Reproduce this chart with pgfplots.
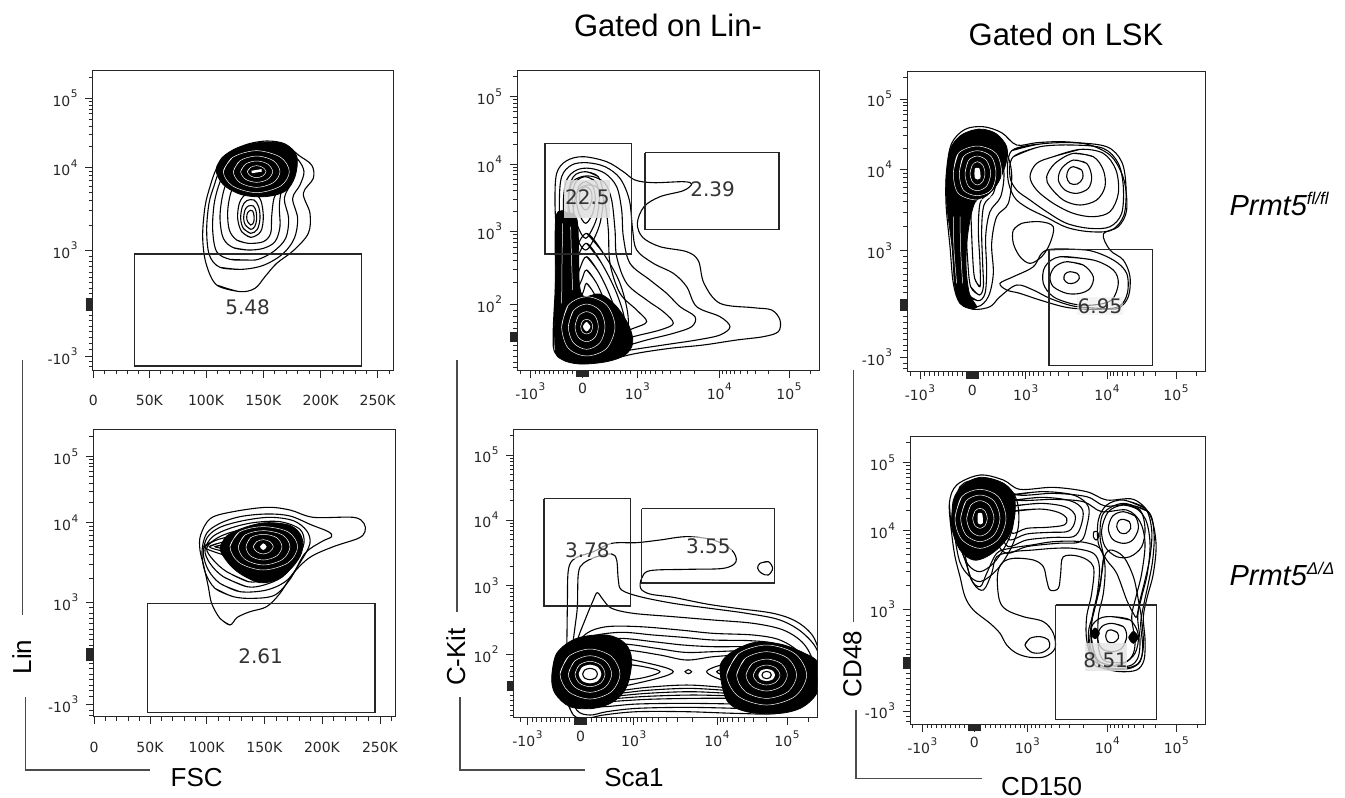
\documentclass[border=0pt]{standalone}
\usepackage{fontspec}
\setmainfont{Liberation Sans}
\newfontfamily\dvs{DejaVu Sans}
\usepackage{pgfplots}
\pgfplotsset{compat=1.18}

% decade label: 10 with a raised exponent
\newcommand\tl[1]{10\kern0.6pt\raisebox{0.6em}{\fontsize{10.5}{11}\selectfont#1}}

\pgfplotsset{
  flow/.style={
    scale only axis, clip=true,
    axis line style={black!85, line width=0.8pt},
    tick align=outside, xtick pos=left, ytick pos=left,
    major tick length=7.5pt, minor tick length=4pt,
    tick style={black!85, line width=0.8pt},
    ticklabel style={font=\dvs\fontsize{14}{15}\selectfont, text=black!85},
    yticklabel style={xshift=-4pt},
    extra y tick labels={}, extra x tick labels={},
    extra y tick style={major tick length=7pt},
    extra x tick style={major tick length=7pt},
  },
  ct/.style={smooth, tension=0.55, line width=1.1pt, black, no markers},
  blk/.style={smooth, tension=0.55, fill=black, draw=black, line width=0.8pt, no markers},
  wtx/.style={smooth, tension=0.55, white, line width=0.5pt, no markers},
  wfill/.style={smooth, tension=0.55, fill=white, draw=none, no markers},
  gate/.style={sharp plot, black!85, line width=1.1pt, no markers},
}
\tikzset{glab/.style={font=\dvs\fontsize{20}{20}\selectfont, text=black!80, inner sep=1pt}}
\newcommand\ct[1]{\addplot[ct] coordinates {#1};}
\newcommand\bk[1]{\addplot[blk] coordinates {#1};}
\newcommand\wt[1]{\addplot[wtx] coordinates {#1};}
\newcommand\wf[1]{\addplot[wfill] coordinates {#1};}

\begin{document}
\begin{tikzpicture}
\useasboundingbox (0pt,0pt) rectangle (1345pt,-798pt);

% ---------- titles and labels ----------
\node[anchor=base, font=\fontsize{31}{31}\selectfont] at (668pt,-36pt) {Gated on Lin-};
\node[anchor=base, font=\fontsize{31}{31}\selectfont] at (1066pt,-45pt) {Gated on LSK};
\node[anchor=base west, font=\fontsize{29}{29}\selectfont\itshape] at (1226pt,-215pt)
  {Prmt5\raisebox{11pt}{\fontsize{17}{17}\selectfont fl/fl}};
\node[anchor=base west, font=\fontsize{29}{29}\selectfont\itshape] at (1226pt,-585pt)
  {Prmt5\raisebox{11pt}{\fontsize{17}{17}\selectfont Δ/Δ}};

\node[anchor=base, font=\fontsize{26}{26}\selectfont] at (196.7pt,-786pt) {FSC};
\node[anchor=base, font=\fontsize{26}{26}\selectfont] at (634pt,-786pt) {Sca1};
\node[anchor=base, font=\fontsize{26}{26}\selectfont] at (1041.7pt,-795pt) {CD150};
\node[rotate=90, font=\fontsize{26}{26}\selectfont] at (21.7pt,-657pt) {Lin};
\node[rotate=90, font=\fontsize{26}{26}\selectfont] at (455.8pt,-657pt) {C-Kit};
\node[rotate=90, font=\fontsize{26}{26}\selectfont] at (852.5pt,-664pt) {CD48};

\draw[black!70, line width=1.2pt] (22.7pt,-360pt) -- (22.7pt,-615pt);
\draw[black!70, line width=1.2pt] (25.7pt,-697pt) -- (25.7pt,-770pt) -- (150pt,-770pt);
\draw[black!70, line width=1.2pt] (457pt,-360pt) -- (457pt,-612pt);
\draw[black!70, line width=1.2pt] (460pt,-697pt) -- (460pt,-770pt) -- (585pt,-770pt);
\draw[black!70, line width=1.2pt] (853.3pt,-370pt) -- (853.3pt,-622pt);
\draw[black!70, line width=1.2pt] (856pt,-710pt) -- (856pt,-778.3pt) -- (981.7pt,-778.3pt);

% ================= FSC / Lin, fl/fl =================
\begin{axis}[flow, at={(92.7pt,-370pt)}, anchor=south west, width=300.6pt, height=300pt,
  xmin=278, xmax=1180, ymin=-1020, ymax=-120,
  xtick={280,448,618,790,962,1133}, xticklabels={0,50K,100K,150K,200K,250K},
  minor xtick={314,348,382,416,482,516,550,584,652,687,721,756,824,859,893,928,996,1030,1065,1099,1167},
  ytick={-205,-413,-660,-978}, yticklabels={\tl{5},\tl{4},\tl{3},-\tl{3}},
  minor ytick={-142,-214.6,-225.2,-237.2,-251.2,-267.6,-287.8,-313.8,-350.4,-424.4,-437,-451.3,-467.8,-487.3,-511.3,-542.2,-585.7,-678,-694,-710,-726,-742,-758,-774,-790,-856,-872,-888,-905,-922,-940,-958,-995,-1010},
  extra y ticks={-842,-840,...,-804},
  xticklabel style={yshift=-14pt}]
\ct{(720,-785) (650,-765) (618,-700) (608,-620) (615,-530) (630,-470) (650,-415) (685,-375) (735,-345) (800,-333) (855,-342) (895,-375) (935,-405) (940,-445) (910,-490) (930,-550) (925,-610) (880,-662) (830,-700) (795,-740) (765,-775) (720,-785) (650,-765)}
\ct{(725,-718) (660,-712) (628,-675) (620,-600) (627,-520) (642,-468) (660,-420) (695,-385) (745,-356) (800,-348) (855,-358) (895,-390) (912,-425) (900,-465) (878,-505) (893,-565) (883,-625) (848,-672) (790,-706) (725,-718) (660,-712)}
\ct{(740,-690) (690,-688) (650,-665) (638,-600) (642,-525) (655,-470) (675,-425) (705,-392) (755,-365) (805,-358) (857,-372) (882,-405) (875,-455) (853,-505) (866,-565) (857,-625) (820,-665) (775,-688) (740,-690) (690,-688)}
\ct{(745,-660) (700,-653) (670,-625) (660,-565) (667,-500) (683,-450) (715,-405) (760,-378) (810,-372) (855,-390) (866,-430) (845,-480) (838,-530) (840,-590) (825,-635) (790,-655) (745,-660) (700,-653)}
\ct{(745,-640) (710,-630) (688,-600) (683,-545) (692,-490) (712,-450) (750,-420) (800,-410) (840,-425) (842,-465) (822,-505) (815,-560) (812,-610) (790,-635) (745,-640) (710,-630)}
\ct{(752,-622) (725,-605) (713,-565) (718,-520) (735,-495) (760,-490) (782,-510) (790,-560) (782,-605) (752,-622) (725,-605)}
\ct{(752,-610) (730,-595) (722,-565) (727,-530) (740,-512) (762,-510) (776,-530) (780,-565) (772,-598) (752,-610) (730,-595)}
\ct{(752,-598) (736,-585) (731,-565) (735,-540) (745,-528) (760,-528) (768,-543) (770,-568) (764,-590) (752,-598) (736,-585)}
\ct{(752,-585) (743,-575) (740,-562) (743,-548) (751,-541) (758,-543) (762,-556) (762,-572) (758,-582) (752,-585) (743,-575)}
\bk{(648,-420) (666,-383) (715,-352) (785,-337) (852,-342) (890,-378) (885,-440) (855,-484) (795,-500) (725,-494) (670,-464) (648,-420) (666,-383)}
\wt{(670,-425) (698,-382) (770,-362) (842,-382) (868,-425) (842,-468) (770,-488) (698,-468) (670,-425) (698,-382)}
\wt{(700,-425) (720,-392) (770,-378) (820,-392) (840,-425) (820,-458) (770,-472) (720,-458) (700,-425) (720,-392)}
\wt{(722,-425) (737,-402) (770,-393) (803,-402) (818,-425) (803,-448) (770,-457) (737,-448) (722,-425) (737,-402)}
\wt{(742,-425) (752,-412) (770,-407) (788,-412) (798,-425) (788,-438) (770,-443) (752,-438) (742,-425) (752,-412)}
\addplot[white, line width=2.5pt, no markers] coordinates {(755,-426) (785,-421)};
\addplot[gate] coordinates {(403,-672) (1085,-672) (1085,-1008) (403,-1008) (403,-672)};
\node[glab] at (axis cs:743,-832) {5.48};
\end{axis}

% ================= Sca1 / C-Kit, fl/fl =================
\begin{axis}[flow, at={(517pt,-370pt)}, anchor=south west, width=302pt, height=299.3pt,
  xmin=291, xmax=1197, ymin=-1020, ymax=-122,
  xtick={331,488,652,898,1107}, xticklabels={-\tl{3},0,\tl{3},\tl{4},\tl{5}},
  minor xtick={300,345,359,373,387,401,415,429,443,457,520,536,552,568,584,600,616,632,663.3,675.9,690.1,706.6,726,749.9,780.7,824,907.6,918.3,930.4,944.4,961,981.2,1007.3,1044.1,1170},
  extra x ticks={470,472,...,506},
  ytick={-200,-403,-603,-822}, yticklabels={\tl{5},\tl{4},\tl{3},\tl{2}},
  minor ytick={-138.9,-209.3,-219.7,-231.5,-245.1,-261.1,-280.8,-306.2,-341.9,-412.2,-422.4,-434,-447.4,-463.2,-482.6,-507.6,-542.8,-613.1,-624.2,-637,-651.6,-668.9,-690.2,-717.5,-756.1,-842,-860,-878,-895,-945,-962,-980,-998,-1012},
  extra y ticks={-934,-932,...,-906},
  xticklabel style={yshift=-2pt}]
\ct{(400,-950) (405,-800) (410,-650) (405,-520) (410,-430) (440,-392) (490,-380) (560,-395) (610,-425) (645,-450) (700,-458) (790,-455) (815,-462) (790,-482) (720,-500) (672,-530) (652,-580) (668,-622) (720,-650) (800,-665) (835,-692) (852,-760) (900,-820) (1000,-833) (1055,-840) (1080,-870) (1075,-905) (1030,-920) (950,-930) (850,-945) (750,-955) (650,-970) (560,-990) (480,-1000) (428,-985) (400,-950) (405,-800)}
\ct{(415,-940) (420,-800) (422,-650) (418,-520) (425,-440) (455,-405) (500,-398) (555,-410) (600,-445) (628,-510) (638,-600) (650,-660) (700,-700) (760,-730) (800,-770) (830,-830) (900,-860) (930,-890) (900,-915) (830,-930) (730,-945) (620,-962) (520,-982) (460,-975) (415,-940) (420,-800)}
\ct{(425,-930) (432,-800) (435,-650) (430,-520) (440,-450) (470,-420) (510,-415) (555,-430) (590,-470) (605,-540) (610,-620) (630,-700) (690,-750) (740,-790) (780,-830) (825,-860) (815,-890) (760,-910) (680,-930) (590,-955) (510,-968) (425,-930) (432,-800)}
\ct{(435,-920) (442,-780) (445,-640) (445,-520) (455,-460) (485,-440) (520,-440) (555,-460) (575,-510) (585,-600) (590,-680) (620,-760) (680,-810) (730,-845) (760,-880) (720,-900) (640,-920) (560,-945) (500,-955) (435,-920) (442,-780)}
\ct{(450,-910) (455,-780) (458,-650) (460,-540) (475,-480) (505,-465) (535,-475) (555,-520) (565,-600) (570,-700) (600,-790) (650,-840) (680,-875) (640,-895) (570,-920) (510,-935) (450,-910) (455,-780)}
\ct{(500,-610) (550,-670) (600,-760) (625,-870) (605,-955) (500,-990) (432,-962) (422,-870) (440,-750) (462,-670) (500,-610) (550,-670)}
\ct{(500,-640) (545,-700) (590,-790) (615,-880) (595,-950) (500,-980) (440,-955) (430,-870) (450,-760) (470,-690) (500,-640) (545,-700)}
\ct{(500,-680) (538,-730) (575,-810) (595,-885) (578,-940) (500,-965) (448,-945) (442,-870) (458,-780) (478,-720) (500,-680) (538,-730)}
\ct{(500,-720) (530,-760) (560,-830) (575,-890) (560,-930) (500,-950) (455,-932) (452,-870) (465,-800) (485,-750) (500,-720) (530,-760)}
\ct{(500,-760) (522,-790) (545,-850) (555,-895) (540,-925) (500,-937) (465,-920) (462,-870) (475,-820) (490,-785) (500,-760) (522,-790)}
\ct{(497,-425) (535,-440) (550,-500) (540,-580) (515,-640) (497,-660) (478,-640) (455,-580) (445,-500) (460,-440) (497,-425) (535,-440)}
\ct{(497,-440) (527,-455) (538,-500) (530,-565) (510,-610) (497,-625) (483,-610) (465,-565) (457,-500) (468,-455) (497,-440) (527,-455)}
\ct{(497,-455) (518,-468) (526,-505) (518,-550) (497,-580) (477,-550) (469,-505) (477,-468) (497,-455) (518,-468)}
\ct{(497,-470) (512,-480) (516,-505) (508,-530) (497,-540) (486,-530) (478,-505) (483,-480) (497,-470) (512,-480)}
\bk{(408,-560) (440,-548) (470,-565) (476,-660) (478,-760) (492,-800) (540,-792) (590,-830) (628,-890) (638,-940) (615,-975) (560,-995) (480,-1002) (425,-988) (405,-950) (406,-760) (408,-560) (440,-548)}
\wt{(482,-890) (487,-874) (500,-868) (513,-874) (518,-890) (513,-906) (500,-912) (487,-906) (482,-890) (487,-874)}
\wt{(465,-890) (475,-858) (500,-845) (525,-858) (535,-890) (525,-922) (500,-935) (475,-922) (465,-890) (475,-858)}
\wt{(445,-890) (460,-842) (500,-822) (540,-842) (555,-890) (540,-938) (500,-958) (460,-938) (445,-890) (460,-842)}
\wt{(425,-890) (445,-825) (500,-800) (560,-825) (585,-890) (560,-955) (500,-978) (445,-955) (425,-890) (445,-825)}
\wt{(428,-580) (426,-700) (425,-820)}
\wt{(452,-590) (455,-700) (458,-780)}
\wf{(500,-876) (511,-890) (500,-904) (489,-890) (500,-876) (511,-890)}
\addplot[fill=gray!25, draw=none, fill opacity=0.85] coordinates {(432,-450) (570,-450) (570,-565) (432,-565)};
\addplot[gate] coordinates {(375,-340) (635,-340) (635,-672) (375,-672) (375,-340)};
\addplot[gate] coordinates {(675,-368) (1077,-368) (1077,-598) (675,-598) (675,-368)};
\node[glab] at (axis cs:502,-503) {22.5};
\node[glab] at (axis cs:878,-478) {2.39};
\end{axis}

% ================= CD150 / CD48, fl/fl =================
\begin{axis}[flow, at={(907pt,-371.7pt)}, anchor=south west, width=298.3pt, height=300pt,
  xmin=201, xmax=1096, ymin=-1025, ymax=-125,
  xtick={240,397,557,801,1008}, xticklabels={-\tl{3},0,\tl{3},\tl{4},\tl{5}},
  minor xtick={210,254,268,282,296,310,324,338,352,366,430,445,460,475,490,505,520,535,548,568.2,580.7,594.8,611.2,630.4,654.1,684.6,727.6,810.5,821.1,833.1,846.9,863.3,883.4,909.3,945.7,1070},
  extra x ticks={380,382,...,414},
  ytick={-207,-418,-662,-982}, yticklabels={\tl{5},\tl{4},\tl{3},-\tl{3}},
  minor ytick={-143.5,-216.7,-227.5,-239.7,-253.8,-270.5,-291,-317.4,-354.5,-429.2,-441.7,-455.8,-472.2,-491.4,-515.1,-545.6,-588.6,-680,-698,-716,-734,-752,-770,-788,-860,-877,-894,-911,-928,-945,-962,-1000,-1015},
  extra y ticks={-842,-840,...,-808},
  xticklabel style={yshift=-2pt}]
\ct{(400,-838) (360,-820) (340,-760) (330,-650) (318,-520) (320,-420) (335,-340) (375,-298) (430,-290) (485,-308) (530,-345) (590,-338) (670,-335) (750,-345) (815,-380) (852,-450) (860,-540) (835,-590) (790,-612) (810,-660) (850,-690) (870,-740) (865,-800) (835,-835) (780,-835) (700,-828) (630,-805) (580,-780) (530,-765) (480,-800) (450,-830) (400,-838) (360,-820)}
\ct{(520,-600) (545,-580) (600,-575) (640,-590) (630,-640) (605,-680) (570,-700) (540,-680) (520,-640) (520,-600) (545,-580)}
\ct{(412,-830) (365,-810) (350,-700) (340,-560) (338,-430) (355,-350) (400,-320) (450,-325) (495,-360) (515,-430) (505,-520) (470,-560) (455,-640) (460,-730) (445,-800) (412,-830) (365,-810)}
\ct{(415,-812) (378,-790) (368,-700) (360,-560) (355,-440) (370,-365) (405,-340) (445,-345) (478,-375) (492,-430) (482,-500) (450,-545) (437,-620) (440,-720) (435,-790) (415,-812) (378,-790)}
\ct{(418,-795) (392,-770) (383,-690) (376,-560) (372,-450) (385,-380) (410,-362) (440,-368) (462,-395) (470,-440) (460,-490) (432,-525) (425,-600) (428,-700) (430,-770) (418,-795) (392,-770)}
\ct{(420,-770) (404,-745) (398,-680) (393,-560) (390,-460) (398,-400) (415,-385) (435,-392) (448,-420) (450,-460) (438,-495) (420,-520) (415,-600) (420,-700) (420,-770) (404,-745)}
\ct{(700,-410) (725,-420) (728,-445) (712,-462) (690,-460) (680,-440) (686,-418) (700,-410) (725,-420)}
\ct{(700,-390) (740,-400) (755,-440) (745,-475) (710,-490) (675,-480) (655,-450) (665,-415) (700,-390) (740,-400)}
\ct{(700,-370) (760,-380) (790,-420) (795,-470) (770,-510) (720,-525) (670,-510) (630,-470) (620,-440) (645,-400) (700,-370) (760,-380)}
\ct{(640,-380) (720,-358) (790,-370) (828,-420) (835,-490) (810,-545) (760,-560) (700,-550) (640,-520) (590,-480) (570,-440) (590,-400) (640,-380) (720,-358)}
\ct{(520,-380) (600,-350) (700,-345) (790,-355) (835,-400) (850,-470) (845,-550) (810,-590) (750,-595) (680,-580) (620,-545) (570,-510) (530,-480) (510,-440) (520,-380) (600,-350)}
\ct{(515,-362) (600,-342) (700,-338) (800,-350) (845,-395) (858,-470) (852,-555) (815,-600) (750,-605) (680,-592) (620,-562) (560,-532) (522,-500) (503,-440) (515,-362) (600,-342)}
\ct{(690,-725) (712,-730) (718,-745) (705,-758) (685,-760) (672,-748) (675,-732) (690,-725) (712,-730)}
\ct{(680,-695) (730,-705) (760,-740) (750,-775) (720,-790) (680,-790) (640,-770) (630,-740) (645,-710) (680,-695) (730,-705)}
\ct{(660,-680) (760,-690) (820,-720) (835,-760) (815,-810) (760,-825) (700,-822) (640,-800) (610,-760) (615,-710) (660,-680) (760,-690)}
\ct{(620,-660) (740,-660) (820,-690) (860,-730) (862,-790) (835,-830) (760,-838) (680,-832) (600,-810) (540,-790) (500,-780) (480,-760) (520,-740) (580,-710) (620,-660) (740,-660)}
\bk{(318,-450) (330,-360) (360,-318) (400,-300) (432,-298) (470,-312) (500,-350) (498,-400) (472,-462) (440,-497) (405,-517) (385,-600) (378,-700) (388,-790) (410,-832) (370,-828) (346,-780) (336,-650) (322,-540) (318,-450) (330,-360)}
\wt{(340,-430) (355,-370) (412,-348) (468,-370) (485,-430) (468,-490) (412,-510) (355,-490) (340,-430) (355,-370)}
\wt{(358,-430) (370,-380) (412,-362) (454,-380) (468,-430) (454,-480) (412,-497) (370,-480) (358,-430) (370,-380)}
\wt{(375,-430) (385,-392) (412,-378) (440,-392) (452,-430) (440,-468) (412,-482) (385,-468) (375,-430) (385,-392)}
\wt{(390,-430) (397,-405) (412,-395) (428,-405) (435,-430) (428,-455) (412,-465) (397,-455) (390,-430) (397,-405)}
\wt{(340,-560) (342,-660) (350,-760)}
\wt{(360,-560) (362,-660) (368,-760)}
\wf{(405,-415) (418,-415) (421,-445) (405,-445) (405,-415) (418,-415)}
\addplot[gate] coordinates {(627,-658) (937,-658) (937,-1007) (627,-1007) (627,-658)};
\node[glab, fill=gray!15, fill opacity=0.6, text opacity=1] at (axis cs:780,-828) {6.95};
\end{axis}

% ================= FSC / Lin, Delta =================
\begin{axis}[flow, at={(93.3pt,-716.7pt)}, anchor=south west, width=302pt, height=287.4pt,
  xmin=280, xmax=1186, ymin=-950, ymax=-88,
  xtick={282,450,620,793,966,1140}, xticklabels={0,50K,100K,150K,200K,250K},
  minor xtick={316,350,384,418,484,518,552,586,655,689,724,758,828,862,897,931,1001,1035,1070,1105,1174},
  ytick={-170,-368,-607,-912}, yticklabels={\tl{5},\tl{4},\tl{3},-\tl{3}},
  minor ytick={-110.4,-179.1,-189.2,-200.7,-213.9,-229.6,-248.8,-273.6,-308.4,-379,-391.2,-405,-421.1,-439.9,-463.1,-493,-535.1,-623,-639,-655,-671,-687,-703,-719,-735,-790,-806,-822,-838,-855,-872,-890,-930,-945},
  extra y ticks={-782,-780,...,-744},
  xticklabel style={yshift=-14pt}]
\ct{(690,-675) (660,-655) (635,-610) (625,-560) (612,-500) (600,-450) (602,-405) (632,-355) (700,-335) (800,-322) (870,-330) (940,-352) (1060,-352) (1092,-370) (1095,-395) (1075,-415) (1000,-440) (930,-472) (880,-520) (840,-580) (800,-620) (750,-635) (712,-652) (690,-675) (660,-655)}
\ct{(700,-590) (645,-565) (615,-515) (606,-455) (620,-400) (660,-370) (720,-350) (800,-342) (870,-348) (935,-375) (985,-395) (995,-410) (965,-425) (915,-460) (872,-535) (825,-585) (760,-595) (700,-590) (645,-565)}
\ct{(720,-575) (660,-550) (625,-510) (610,-460) (622,-412) (660,-382) (730,-362) (810,-352) (880,-362) (920,-392) (930,-430) (905,-480) (862,-540) (800,-570) (720,-575) (660,-550)}
\ct{(740,-560) (670,-530) (630,-490) (615,-450) (638,-410) (690,-385) (760,-368) (840,-365) (900,-388) (912,-430) (888,-482) (848,-530) (792,-555) (740,-560) (670,-530)}
\ct{(745,-545) (680,-515) (640,-480) (620,-445) (650,-415) (700,-395) (770,-382) (840,-380) (890,-400) (898,-435) (875,-478) (838,-520) (792,-540) (745,-545) (680,-515)}
\ct{(612,-440) (650,-420) (700,-408) (750,-405) (760,-440) (750,-478) (700,-472) (650,-458) (612,-440) (650,-420)}
\ct{(628,-440) (662,-428) (705,-420) (750,-418) (755,-440) (750,-465) (705,-460) (662,-452) (628,-440) (662,-428)}
\ct{(645,-440) (680,-433) (720,-430) (750,-432) (750,-450) (720,-450) (680,-447) (645,-440) (680,-433)}
\bk{(660,-445) (680,-408) (735,-382) (800,-368) (872,-377) (905,-410) (905,-458) (876,-503) (832,-538) (780,-548) (722,-522) (684,-488) (660,-445) (680,-408)}
\wt{(690,-440) (718,-396) (790,-380) (865,-396) (893,-440) (865,-488) (790,-510) (718,-488) (690,-440) (718,-396)}
\wt{(715,-440) (735,-405) (790,-392) (848,-405) (870,-440) (848,-478) (790,-495) (735,-478) (715,-440) (735,-405)}
\wt{(738,-440) (752,-413) (790,-403) (830,-413) (846,-440) (830,-468) (790,-480) (752,-468) (738,-440) (752,-413)}
\wt{(760,-440) (770,-425) (790,-419) (810,-425) (820,-440) (810,-455) (790,-462) (770,-455) (760,-440) (770,-425)}
\wf{(780,-440) (790,-430) (800,-440) (790,-450) (780,-440) (790,-430)}
\addplot[gate] coordinates {(442,-610) (1125,-610) (1125,-937) (442,-937) (442,-610)};
\node[glab] at (axis cs:782,-770) {2.61};
\end{axis}

% ================= Sca1 / C-Kit, Delta =================
\begin{axis}[flow, at={(513.7pt,-717.7pt)}, anchor=south west, width=303.6pt, height=288.4pt,
  xmin=281, xmax=1192, ymin=-953, ymax=-88,
  xtick={322,482,641,891,1101}, xticklabels={-\tl{3},0,\tl{3},\tl{4},\tl{5}},
  minor xtick={300,336,350,364,378,392,406,420,434,448,515,530,545,560,575,590,605,620,632,652.5,665.3,679.8,696.5,716.3,740.5,771.8,815.8,900.7,911.4,923.6,937.6,954.2,974.6,1000.8,1037.8,1164},
  extra x ticks={464,466,...,500},
  ytick={-165,-360,-557,-762}, yticklabels={\tl{5},\tl{4},\tl{3},\tl{2}},
  minor ytick={-106.3,-174,-183.9,-195.2,-208.3,-223.7,-242.6,-267,-301.3,-369.1,-379.1,-390.5,-403.7,-419.3,-438.4,-463,-497.7,-566.4,-576.9,-588.8,-602.5,-618.7,-638.6,-664.2,-700.3,-780,-798,-815,-830,-885,-900,-915,-930,-945},
  extra y ticks={-871,-869,...,-843},
  xticklabel style={yshift=-2pt}]
\ct{(460,-945) (435,-880) (440,-750) (442,-620) (445,-510) (465,-475) (520,-455) (575,-430) (650,-428) (720,-420) (800,-410) (880,-420) (935,-450) (948,-485) (910,-505) (800,-508) (690,-512) (665,-535) (662,-565) (690,-582) (760,-592) (860,-612) (950,-625) (1060,-640) (1130,-665) (1180,-710) (1200,-780) (1185,-860) (1140,-910) (1070,-940) (950,-940) (800,-935) (650,-935) (550,-945) (500,-955) (460,-945) (435,-880)}
\ct{(470,-930) (447,-860) (455,-760) (465,-680) (472,-620) (475,-520) (490,-490) (530,-470) (575,-462) (590,-480) (595,-540) (605,-570) (660,-590) (760,-610) (870,-625) (980,-640) (1080,-660) (1150,-700) (1195,-760) (1190,-850) (1150,-900) (1070,-930) (950,-925) (800,-922) (650,-925) (560,-935) (510,-945) (470,-930) (447,-860)}
\ct{(480,-915) (455,-840) (470,-730) (495,-660) (520,-600) (532,-578) (550,-600) (575,-625) (640,-640) (760,-650) (880,-660) (1000,-670) (1090,-690) (1150,-730) (1180,-790) (1170,-860) (1130,-895) (1060,-915) (950,-912) (800,-910) (650,-912) (550,-920) (480,-915) (455,-840)}
\ct{(490,-905) (440,-830) (460,-750) (500,-700) (560,-680) (660,-680) (780,-690) (880,-700) (1000,-705) (1080,-720) (1140,-760) (1160,-820) (1140,-870) (1080,-900) (960,-895) (820,-895) (680,-898) (560,-905) (490,-905) (440,-830)}
\ct{(495,-900) (430,-830) (455,-755) (505,-712) (600,-697) (700,-705) (790,-712) (880,-720) (990,-722) (1070,-732) (1130,-770) (1150,-825) (1125,-870) (1060,-893) (945,-888) (815,-885) (680,-889) (565,-897) (495,-900) (430,-830)}
\ct{(500,-895) (420,-830) (450,-760) (510,-725) (600,-715) (700,-725) (790,-735) (880,-740) (980,-740) (1060,-745) (1120,-780) (1140,-830) (1110,-870) (1040,-885) (930,-880) (810,-875) (680,-880) (570,-890) (500,-895) (420,-830)}
\ct{(505,-880) (412,-830) (445,-770) (515,-738) (610,-732) (710,-745) (795,-757) (880,-755) (975,-752) (1055,-757) (1110,-790) (1130,-832) (1100,-868) (1030,-878) (920,-871) (805,-865) (680,-871) (575,-882) (505,-880) (412,-830)}
\ct{(505,-885) (405,-830) (440,-780) (520,-750) (620,-750) (720,-765) (800,-780) (880,-770) (970,-765) (1050,-770) (1100,-800) (1120,-835) (1090,-865) (1020,-872) (910,-862) (800,-855) (680,-862) (580,-875) (505,-885) (405,-830)}
\ct{(560,-770) (650,-782) (760,-815) (650,-850) (560,-860) (530,-815) (560,-770) (650,-782)}
\ct{(580,-790) (660,-798) (720,-815) (660,-835) (580,-840) (560,-815) (580,-790) (660,-798)}
\ct{(1000,-775) (920,-790) (860,-815) (920,-845) (1000,-860) (1030,-815) (1000,-775) (920,-790)}
\ct{(990,-792) (930,-802) (890,-815) (930,-832) (990,-840) (1005,-815) (990,-792) (930,-802)}
\ct{(795,-815) (805,-809) (815,-815) (805,-821) (795,-815) (805,-809)}
\ct{(1020,-490) (1045,-485) (1058,-505) (1045,-525) (1025,-520) (1013,-505) (1020,-490) (1045,-485)}
\bk{(395,-830) (410,-760) (470,-715) (560,-705) (615,-730) (635,-780) (620,-860) (580,-905) (520,-925) (450,-920) (405,-880) (395,-830) (410,-760)}
\bk{(900,-800) (930,-760) (1000,-728) (1080,-732) (1150,-758) (1195,-790) (1195,-870) (1150,-920) (1080,-940) (980,-935) (920,-900) (900,-800) (930,-760)}
\wt{(465,-822) (478,-795) (510,-784) (542,-795) (555,-822) (542,-849) (510,-860) (478,-849) (465,-822) (478,-795)}
\wt{(445,-822) (464,-783) (510,-767) (556,-783) (575,-822) (556,-861) (510,-877) (464,-861) (445,-822) (464,-783)}
\wt{(420,-822) (446,-769) (510,-747) (574,-769) (600,-822) (574,-875) (510,-897) (446,-875) (420,-822) (446,-769)}
\wt{(1000,-825) (1012,-804) (1040,-795) (1068,-804) (1080,-825) (1068,-846) (1040,-855) (1012,-846) (1000,-825) (1012,-804)}
\wt{(978,-825) (996,-791) (1040,-777) (1084,-791) (1102,-825) (1084,-859) (1040,-873) (996,-859) (978,-825) (996,-791)}
\wt{(950,-825) (976,-775) (1040,-755) (1104,-775) (1130,-825) (1104,-875) (1040,-895) (976,-875) (950,-825) (976,-775)}
\wt{(920,-825) (955,-761) (1040,-735) (1125,-761) (1160,-825) (1125,-889) (1040,-915) (955,-889) (920,-825) (955,-761)}
\wf{(476,-822) (486,-802) (510,-794) (534,-802) (544,-822) (534,-842) (510,-850) (486,-842) (476,-822) (486,-802)}
\ct{(488,-822) (494,-810) (510,-805) (526,-810) (532,-822) (526,-834) (510,-839) (494,-834) (488,-822) (494,-810)}
\wf{(1015,-825) (1022,-812) (1040,-807) (1058,-812) (1065,-825) (1058,-838) (1040,-843) (1022,-838) (1015,-825) (1022,-812)}
\ct{(1026,-825) (1030,-817) (1040,-814) (1050,-817) (1054,-825) (1050,-833) (1040,-836) (1030,-833) (1026,-825) (1030,-817)}
\addplot[gate] coordinates {(372,-296) (631,-296) (631,-618) (372,-618) (372,-296)};
\addplot[gate] coordinates {(665,-326) (1063,-326) (1063,-549) (665,-549) (665,-326)};
\node[glab, fill=white, fill opacity=0.6, text opacity=1] at (axis cs:502,-452) {3.78};
\node[glab, fill=white, fill opacity=0.6, text opacity=1] at (axis cs:865,-438) {3.55};
\end{axis}

% ================= CD150 / CD48, Delta =================
\begin{axis}[flow, at={(910pt,-724.3pt)}, anchor=south west, width=295.7pt, height=287.6pt,
  xmin=210, xmax=1097, ymin=-973, ymax=-110,
  xtick={247,403,562,802,1009}, xticklabels={-\tl{3},0,\tl{3},\tl{4},\tl{5}},
  minor xtick={217,261,275,289,303,317,331,345,359,373,435,450,465,480,495,510,525,540,552,573,585.3,599.2,615.3,634.2,657.5,687.5,729.8,811.5,822.1,834.1,847.9,864.3,884.4,910.3,946.7,1071},
  extra x ticks={385,387,...,421},
  ytick={-188,-392,-628,-933}, yticklabels={\tl{5},\tl{4},\tl{3},-\tl{3}},
  minor ytick={-126.6,-197.4,-207.8,-219.6,-233.3,-249.4,-269.2,-294.7,-330.6,-402.9,-414.9,-428.6,-444.4,-463,-485.9,-515.4,-557,-645,-662,-679,-696,-713,-730,-747,-762,-820,-836,-852,-868,-884,-900,-916,-950,-965},
  extra y ticks={-805,-803,...,-771},
  xticklabel style={yshift=-2pt}]
\ct{(335,-400) (328,-310) (350,-255) (420,-225) (490,-240) (540,-268) (640,-262) (740,-275) (800,-300) (880,-298) (930,-345) (948,-430) (940,-520) (922,-590) (910,-650) (915,-720) (912,-780) (890,-810) (840,-815) (790,-805) (760,-790) (740,-720) (740,-650) (755,-580) (760,-500) (720,-470) (670,-470) (662,-520) (655,-565) (630,-570) (620,-540) (610,-500) (580,-480) (520,-475) (485,-490) (472,-530) (478,-600) (500,-630) (550,-650) (610,-665) (640,-700) (645,-745) (615,-770) (570,-772) (530,-760) (500,-735) (480,-700) (450,-670) (400,-630) (375,-590) (360,-530) (345,-470) (335,-400) (328,-310)}
\ct{(555,-735) (570,-715) (600,-710) (625,-720) (628,-742) (605,-758) (575,-757) (555,-735) (570,-715)}
\ct{(350,-400) (345,-315) (365,-268) (420,-242) (485,-255) (535,-285) (640,-280) (740,-290) (795,-318) (870,-315) (915,-355) (930,-430) (922,-520) (905,-590) (893,-650) (900,-720) (895,-770) (875,-795) (840,-800) (795,-792) (770,-775) (755,-720) (757,-650) (772,-580) (778,-500) (760,-460) (700,-445) (640,-445) (580,-450) (520,-455) (470,-470) (455,-520) (430,-570) (400,-550) (375,-480) (350,-400) (345,-315)}
\ct{(365,-400) (360,-320) (380,-280) (425,-258) (480,-268) (530,-300) (640,-298) (730,-305) (785,-335) (860,-330) (900,-365) (915,-430) (905,-520) (888,-590) (875,-650) (885,-720) (880,-760) (860,-785) (825,-788) (790,-780) (775,-740) (775,-650) (790,-580) (795,-500) (780,-445) (720,-425) (640,-425) (575,-435) (510,-445) (470,-460) (440,-520) (420,-560) (390,-530) (365,-400) (360,-320)}
\ct{(340,-350) (360,-260) (420,-238) (490,-250) (530,-300) (535,-380) (510,-450) (470,-510) (420,-545) (380,-520) (355,-470) (340,-350) (360,-260)}
\ct{(355,-350) (370,-275) (420,-255) (478,-265) (515,-310) (518,-380) (495,-440) (460,-490) (420,-515) (385,-495) (362,-440) (355,-350) (370,-275)}
\ct{(500,-290) (600,-275) (700,-285) (745,-320) (740,-380) (720,-425) (650,-430) (560,-440) (500,-460) (470,-420) (480,-340) (500,-290) (600,-275)}
\ct{(505,-305) (600,-292) (690,-302) (728,-330) (722,-380) (700,-410) (640,-412) (560,-420) (505,-440) (485,-400) (490,-340) (505,-305) (600,-292)}
\ct{(510,-320) (600,-310) (675,-320) (705,-345) (700,-378) (680,-395) (630,-397) (560,-402) (510,-420) (495,-390) (498,-345) (510,-320) (600,-310)}
\ct{(515,-335) (600,-327) (655,-337) (680,-355) (672,-375) (620,-382) (560,-385) (518,-400) (505,-370) (515,-335) (600,-327)}
\ct{(850,-310) (925,-335) (942,-400) (938,-480) (925,-550) (912,-610) (902,-670) (908,-740) (900,-785) (870,-805) (820,-808) (780,-795) (762,-760) (752,-690) (765,-620) (782,-540) (790,-470) (780,-410) (790,-340) (850,-310) (925,-335)}
\ct{(850,-358) (868,-365) (872,-385) (858,-400) (840,-398) (830,-380) (836,-362) (850,-358) (868,-365)}
\ct{(850,-335) (885,-348) (895,-385) (878,-420) (850,-430) (818,-418) (805,-385) (818,-348) (850,-335) (885,-348)}
\ct{(850,-315) (900,-330) (915,-385) (905,-440) (870,-470) (830,-470) (795,-440) (785,-390) (805,-335) (850,-315) (900,-330)}
\ct{(850,-300) (915,-325) (935,-390) (930,-470) (915,-540) (900,-600) (890,-650) (880,-640) (860,-600) (830,-520) (800,-480) (775,-430) (775,-360) (800,-315) (850,-300) (915,-325)}
\ct{(815,-690) (832,-698) (835,-715) (820,-728) (803,-725) (797,-708) (802,-693) (815,-690) (832,-698)}
\ct{(815,-670) (850,-680) (860,-710) (845,-745) (815,-755) (785,-745) (772,-712) (785,-680) (815,-670) (850,-680)}
\ct{(815,-650) (870,-660) (895,-705) (885,-760) (850,-790) (810,-795) (770,-780) (750,-735) (755,-680) (780,-655) (815,-650) (870,-660)}
\ct{(760,-640) (780,-560) (790,-480) (810,-450) (850,-470) (880,-530) (895,-600) (905,-660) (910,-740) (895,-790) (850,-805) (790,-800) (755,-770) (745,-700) (760,-640) (780,-560)}
\ct{(762,-395) (772,-395) (776,-410) (768,-420) (760,-410) (762,-395) (772,-395)}
\bk{(335,-380) (340,-300) (370,-255) (420,-232) (480,-245) (520,-280) (525,-340) (510,-400) (480,-440) (440,-470) (400,-480) (360,-450) (335,-380) (340,-300)}
\bk{(752,-700) (765,-684) (778,-700) (765,-716) (752,-700) (765,-684)}
\bk{(866,-712) (880,-694) (894,-712) (880,-730) (866,-712) (880,-694)}
\wt{(345,-355) (365,-290) (420,-268) (475,-290) (498,-355) (475,-418) (420,-445) (365,-418) (345,-355) (365,-290)}
\wt{(362,-355) (378,-303) (420,-285) (462,-303) (480,-355) (462,-405) (420,-425) (378,-405) (362,-355) (378,-303)}
\wt{(380,-355) (392,-316) (420,-302) (448,-316) (462,-355) (448,-393) (420,-408) (392,-393) (380,-355) (392,-316)}
\wt{(398,-355) (405,-333) (420,-325) (435,-333) (442,-355) (435,-377) (420,-385) (405,-377) (398,-355) (405,-333)}
\wf{(414,-340) (426,-340) (428,-370) (414,-370) (414,-340) (426,-340)}
\addplot[fill=gray!22, draw=none, fill opacity=0.8] coordinates {(735,-730) (860,-730) (860,-812) (735,-812)};
\addplot[gate] coordinates {(647,-615) (950,-615) (950,-958) (647,-958) (647,-615)};
\node[glab] at (axis cs:797,-780) {8.51};
\end{axis}
\end{tikzpicture}
\end{document}
